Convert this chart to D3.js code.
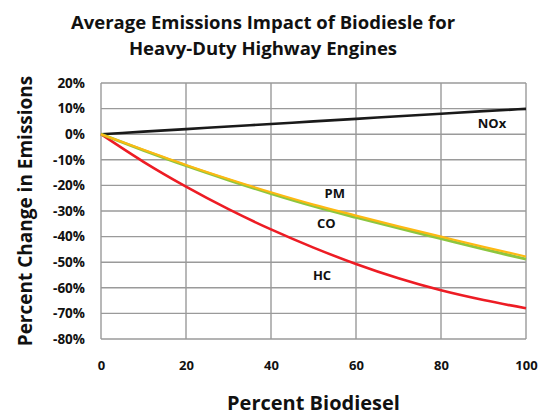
<!DOCTYPE html>
<html><head><meta charset="utf-8">
<script src="https://cdn.jsdelivr.net/npm/d3@7"></script>
<style>body{margin:0;background:#fff}svg{display:block}text{font-family:"Open Sans","Noto Sans",sans-serif;font-weight:700;fill:#111}</style>
</head><body><div id="chart"></div>
<script>
const biodiesel = [0,10,20,30,40,50,60,70,80,90,100];
const noxValues = [0,1,2,3,4,5,6,7,8,9,9.9];
const pmValues  = [0,-6.1,-12,-17.5,-22.7,-27.5,-31.8,-36,-40,-44,-47.8];
const coValues  = [0,-6.3,-12.3,-17.9,-23.2,-28.1,-32.5,-36.7,-40.8,-44.9,-48.8];
const hcValues  = [0,-10.8,-20.5,-29.3,-37.2,-44.3,-50.7,-56.3,-61,-64.8,-68];
const xTicks = [0,20,40,60,80,100];
const yTicks = [20,10,0,-10,-20,-30,-40,-50,-60,-70,-80];
const titleLines = ["Average Emissions Impact of Biodiesle for","Heavy-Duty Highway Engines"];

const W=540,H=416;
const m={left:101,right:14,top:83,bottom:77};
const svg=d3.select("#chart").append("svg").attr("width",W).attr("height",H);
const x=d3.scaleLinear().domain([0,100]).range([m.left,W-m.right]);
const y=d3.scaleLinear().domain([-80,20]).range([H-m.bottom,m.top]);

// grid
svg.append("g").selectAll("line").data(yTicks).join("line")
  .attr("x1",x(0)).attr("x2",x(100)).attr("y1",d=>y(d)).attr("y2",d=>y(d))
  .attr("stroke","#9a9a9a").attr("stroke-width",1.4);
svg.append("g").selectAll("line").data(xTicks).join("line")
  .attr("y1",y(20)).attr("y2",y(-80)).attr("x1",d=>x(d)).attr("x2",d=>x(d))
  .attr("stroke","#9a9a9a").attr("stroke-width",1.4);

// axes labels
const yAxis=d3.axisLeft(y).tickValues(yTicks).tickSize(0).tickPadding(16).tickFormat(d=>d+"%");
const gy=svg.append("g").attr("transform",`translate(${m.left},0)`).call(yAxis);
gy.select(".domain").remove();
gy.selectAll("text").attr("font-size",13.5).style("font-family",'"Open Sans",sans-serif').style("font-weight",700).attr("fill","#111");
const xAxis=d3.axisBottom(x).tickValues(xTicks).tickSize(0).tickPadding(22);
const gx=svg.append("g").attr("transform",`translate(0,${y(-80)})`).call(xAxis);
gx.select(".domain").remove();
gx.selectAll("text").attr("font-size",13).style("font-family",'"Open Sans",sans-serif').style("font-weight",700).attr("fill","#111");

// lines
const line=vals=>d3.line().x((d,i)=>x(biodiesel[i])).y(d=>y(d)).curve(d3.curveMonotoneX)(vals);
svg.append("path").attr("d",line(noxValues)).attr("fill","none").attr("stroke","#1a1a1a").attr("stroke-width",2.6);
svg.append("path").attr("d",line(hcValues)).attr("fill","none").attr("stroke","#ed1c24").attr("stroke-width",2.6);
svg.append("path").attr("d",line(coValues)).attr("fill","none").attr("stroke","#8dc63f").attr("stroke-width",3);
svg.append("path").attr("d",line(pmValues)).attr("fill","none").attr("stroke","#fdb913").attr("stroke-width",2.2);

// series labels
const lab=[["NOx",92,3.9],["PM",55,-23.7],["CO",53,-35.3],["HC",52,-55.5]];
svg.append("g").selectAll("text").data(lab).join("text")
  .attr("x",d=>x(d[1])).attr("y",d=>y(d[2])).attr("text-anchor","middle").attr("dominant-baseline","middle")
  .attr("font-size",13).text(d=>d[0]);

// titles
svg.append("g").selectAll("text").data(titleLines).join("text")
  .attr("x",263).attr("y",(d,i)=>29+i*26).attr("text-anchor","middle").attr("font-size",18.5).text(d=>d);
svg.append("text").attr("x",(x(0)+x(100))/2).attr("y",410).attr("text-anchor","middle").attr("font-size",20).text("Percent Biodiesel");
svg.append("text").attr("transform",`translate(32,${(y(20)+y(-80))/2}) rotate(-90)`).attr("text-anchor","middle").attr("font-size",19).text("Percent Change in Emissions");
</script></body></html>
